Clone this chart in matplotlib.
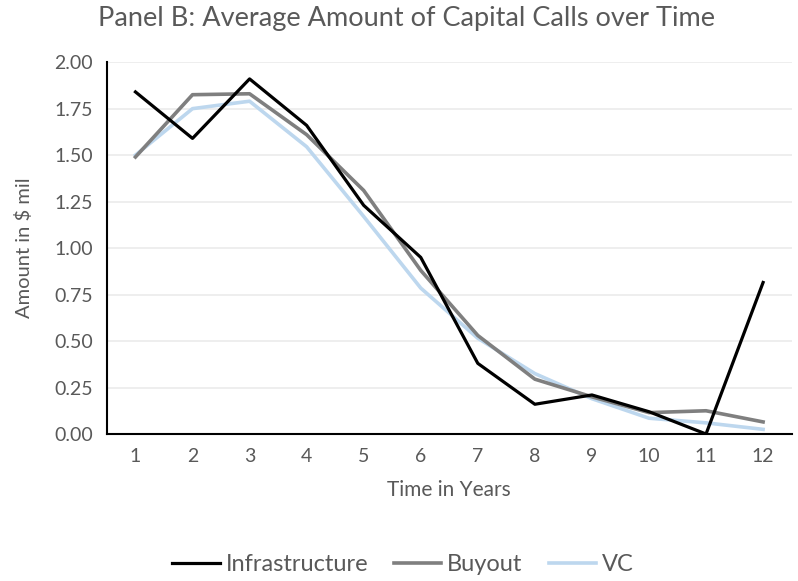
import matplotlib.pyplot as plt
import numpy as np

years = list(range(1, 13))
infrastructure = [1.84, 1.59, 1.91, 1.66, 1.23, 0.95, 0.38, 0.16, 0.21, 0.12, 0.0, 0.815]
buyout = [1.49, 1.825, 1.83, 1.61, 1.31, 0.88, 0.53, 0.295, 0.20, 0.115, 0.125, 0.065]
vc = [1.50, 1.75, 1.79, 1.545, 1.17, 0.785, 0.515, 0.325, 0.19, 0.085, 0.06, 0.025]

plt.rcParams['font.family'] = ['Lato', 'DejaVu Sans']
txt = '#595959'

fig = plt.figure(figsize=(7.98, 5.81), dpi=100)
ax = fig.add_axes([0.134, 0.253, 0.858, 0.640])

ax.plot(years, infrastructure, color='black', lw=2.3, label='Infrastructure', zorder=3)
ax.plot(years, buyout, color='#7f7f7f', lw=2.6, label='Buyout', zorder=2)
ax.plot(years, vc, color='#bdd7ee', lw=2.6, label='VC', zorder=1)

ax.set_xlim(0.5, 12.5)
ax.set_ylim(0, 2.0)
ax.set_xticks(years)
ax.set_yticks(np.arange(0, 2.01, 0.25))
ax.set_yticklabels([f'{v:.2f}' for v in np.arange(0, 2.01, 0.25)])
ax.yaxis.grid(True, color='#ebebeb', lw=1.2)
ax.set_axisbelow(True)
for s in ['top', 'right']:
    ax.spines[s].set_visible(False)
ax.spines['left'].set_color('black')
ax.spines['left'].set_linewidth(1.5)
ax.spines['bottom'].set_color('black')
ax.spines['bottom'].set_linewidth(1.5)
ax.tick_params(axis='both', length=0, labelsize=14, colors=txt, pad=10)

ax.set_xlabel('Time in Years', fontsize=15, color=txt, labelpad=11)
ax.set_ylabel('Amount in $ mil', fontsize=14.5, color=txt, labelpad=15)
fig.text(0.51, 0.969, 'Panel B: Average Amount of Capital Calls over Time',
         ha='center', va='center', fontsize=19.5, color=txt)

fig.legend(loc='center', bbox_to_anchor=(0.505, 0.028), ncol=3, frameon=False,
           fontsize=17, labelcolor=txt, handlelength=2.0, handletextpad=0.25,
           columnspacing=1.1)

fig.savefig('out.png', dpi=100)
